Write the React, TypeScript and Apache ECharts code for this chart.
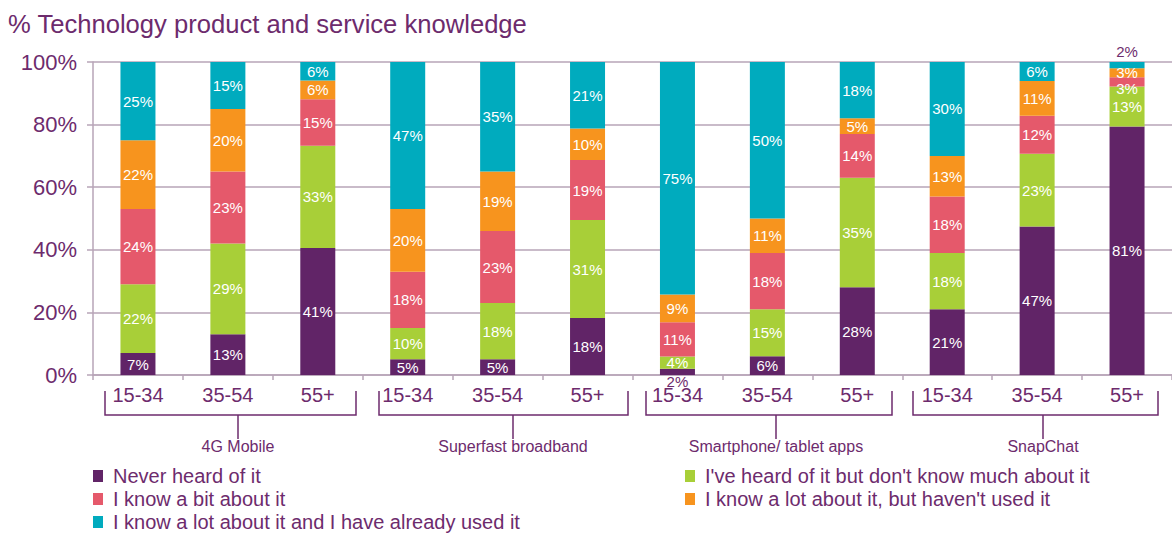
import React, { useEffect, useRef } from "react";
import * as echarts from "echarts";

const categories = ["15-34", "35-54", "55+", "15-34", "35-54", "55+", "15-34", "35-54", "55+", "15-34", "35-54", "55+"];
const groups = ["4G Mobile", "Superfast broadband", "Smartphone/ tablet apps", "SnapChat"];
const seriesNames = [
  "Never heard of it",
  "I've heard of it but don't know much about it",
  "I know a bit about it",
  "I know a lot about it, but haven't used it",
  "I know a lot about it and I have already used it",
];
const neverHeard = [7, 13, 41, 5, 5, 18, 2, 6, 28, 21, 47, 81];
const heardNotMuch = [22, 29, 33, 10, 18, 31, 4, 15, 35, 18, 23, 13];
const knowBit = [24, 23, 15, 18, 23, 19, 11, 18, 14, 18, 12, 3];
const knowLotNotUsed = [22, 20, 6, 20, 19, 10, 9, 11, 5, 13, 11, 3];
const usedIt = [25, 15, 6, 47, 35, 21, 75, 50, 18, 30, 6, 2];
const yTicks = [0, 20, 40, 60, 80, 100];

const colors = ["#612467", "#A8CF38", "#E5596B", "#F7941E", "#00ABBE"];
const PURPLE = "#6D2B6D";
const GRIDC = "#B7A4B7";
const FONT = "'Liberation Sans', Arial, sans-serif";

// layout of group brackets (pixels)
const bracketLayout = [
  { l: 105, r: 356, stem: 238 },
  { l: 379, r: 628, stem: 513 },
  { l: 646, r: 892, stem: 776 },
  { l: 913, r: 1158, stem: 1043 },
];

export default function App() {
  const ref = useRef<HTMLDivElement>(null);
  useEffect(() => {
    if (!ref.current) return;
    const chart = echarts.init(ref.current, null, { renderer: "svg" });
    const raw = [neverHeard, heardNotMuch, knowBit, knowLotNotUsed, usedIt];
    const totals = categories.map((_, i) => raw.reduce((s, arr) => s + arr[i], 0));

    const series = raw.map((arr, si) => ({
      name: seriesNames[si],
      type: "bar",
      stack: "total",
      barWidth: 35,
      itemStyle: { color: colors[si] },
      label: {
        show: true,
        position: "inside",
        color: "#fff",
        fontSize: 15,
        fontFamily: FONT,
        formatter: (p: any) => arr[p.dataIndex] + "%",
      },
      data: arr.map((v, i) => {
        const item: any = { value: (v / totals[i]) * 100 };
        if (si === 0 && v <= 2) {
          item.label = { position: "bottom", color: PURPLE, distance: -1 };
        }
        if (si === 4 && v <= 2) {
          item.label = { position: "top", color: PURPLE, distance: 3 };
        }
        if (si === 2 && v <= 3) {
          item.label = { offset: [0, 7] };
        }
        return item;
      }),
    }));

    const graphic: any[] = [];
    bracketLayout.forEach((b, gi) => {
      graphic.push({
        type: "polyline",
        shape: { points: [[b.l, 391], [b.l, 415], [b.r, 415], [b.r, 391]] },
        style: { stroke: PURPLE, lineWidth: 1.5, fill: null },
      });
      graphic.push({
        type: "line",
        shape: { x1: b.stem, y1: 415, x2: b.stem, y2: 439 },
        style: { stroke: PURPLE, lineWidth: 1.5 },
      });
      graphic.push({
        type: "text",
        x: b.stem,
        y: 446,
        style: {
          text: groups[gi],
          fill: PURPLE,
          fontSize: 16,
          fontFamily: FONT,
          textAlign: "center",
          textVerticalAlign: "middle",
        },
      });
    });

    const legendCommon = {
      orient: "vertical",
      icon: "rect",
      itemWidth: 10,
      itemHeight: 12,
      itemGap: 3,
      padding: 0,
      selectedMode: false,
      textStyle: { color: PURPLE, fontSize: 20, fontFamily: FONT, lineHeight: 20, padding: [0, 0, 0, 5] },
    };

    chart.setOption({
      animation: false,
      title: {
        text: "% Technology product and service knowledge",
        left: 3,
        top: 6,
        textStyle: { color: PURPLE, fontSize: 25.6, fontWeight: "normal", fontFamily: FONT },
      },
      legend: [
        { ...legendCommon, left: 93, top: 466, data: [seriesNames[0], seriesNames[2], seriesNames[4]] },
        { ...legendCommon, left: 685, top: 466, data: [seriesNames[1], seriesNames[3]] },
      ],
      grid: { left: 93, top: 62, width: 1082, height: 313 },
      xAxis: {
        type: "category",
        data: categories,
        axisLine: { lineStyle: { color: GRIDC, width: 1.5 } },
        axisTick: { show: true, interval: 0, length: 5, lineStyle: { color: GRIDC, width: 1.5 } },
        axisLabel: { color: PURPLE, fontSize: 20, fontFamily: FONT, margin: 10, interval: 0 },
      },
      yAxis: {
        type: "value",
        min: yTicks[0],
        max: yTicks[yTicks.length - 1],
        interval: yTicks[1] - yTicks[0],
        axisLine: { show: true, lineStyle: { color: GRIDC, width: 1.5 } },
        axisTick: { show: true, length: 6, lineStyle: { color: GRIDC, width: 1.5 } },
        splitLine: { lineStyle: { color: GRIDC, width: 1.5 } },
        axisLabel: { color: PURPLE, fontSize: 22, fontFamily: FONT, margin: 16, formatter: "{value}%" },
      },
      graphic,
      series,
    });
    return () => chart.dispose();
  }, []);
  return (
    <div
      ref={ref}
      style={{ position: "fixed", left: 0, top: 0, width: 1172, height: 535, background: "#fff" }}
    />
  );
}
